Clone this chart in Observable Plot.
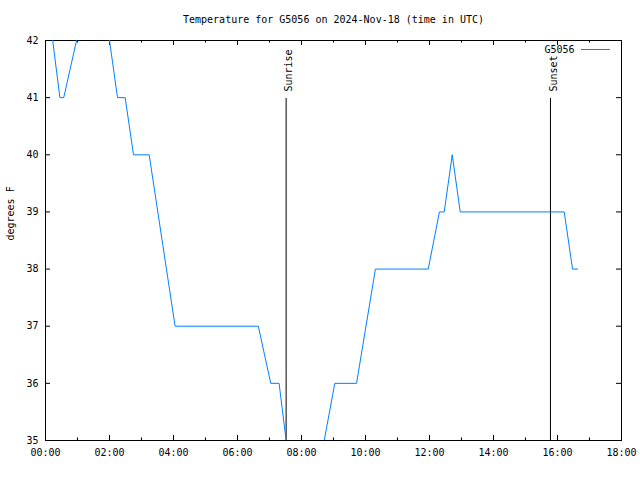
<!DOCTYPE html>
<html><head><meta charset="utf-8">
<script src="https://cdn.jsdelivr.net/npm/d3@7"></script>
<script src="https://cdn.jsdelivr.net/npm/@observablehq/plot@0.6"></script>
<style>body{margin:0;background:#fff}</style>
</head><body><div id="chart"></div>
<script>
const title = "Temperature for G5056 on 2024-Nov-18 (time in UTC)";
const seriesName = "G5056";
const yLabel = "degrees F";
const hours = [0, 0.45, 0.57, 0.97, 1.4, 1.75, 2.25, 2.49, 2.75, 3.24, 4.05, 6.65, 7.04, 7.3, 7.52, 7.8, 8.45, 8.71, 9.04, 9.72, 10.31, 11.96, 12.31, 12.46, 12.71, 12.96, 16.21, 16.47, 16.63];
const temps = [43, 41, 41, 42, 43, 43, 41, 41, 40, 40, 37, 37, 36, 36, 35, 34, 34, 35, 36, 36, 38, 38, 39, 39, 40, 39, 39, 38, 38];
const events = ["Sunrise", "Sunset"];
const eventHours = [7.52, 15.78];
const xMajor = [0, 2, 4, 6, 8, 10, 12, 14, 16, 18];
const xMinor = [1, 3, 5, 7, 9, 11, 13, 15, 17];
const xTickLabels = ["00:00", "02:00", "04:00", "06:00", "08:00", "10:00", "12:00", "14:00", "16:00", "18:00"];
const yTicks = [35, 36, 37, 38, 39, 40, 41, 42];

const data = hours.map((h, i) => ({h, t: temps[i]}));
const ev = events.map((name, i) => ({name, h: eventHours[i]}));
const blue = "#0080ff";

const W = 640, H = 480, mL = 45, mR = 19, mT = 40, mB = 40;
const fw = W - mL - mR, fh = H - mT - mB;
const major = 5, minor = 2.5;

const chart = Plot.plot({
  width: W, height: H,
  marginLeft: mL, marginRight: mR, marginTop: mT, marginBottom: mB,
  style: {fontFamily: "DejaVu Sans Mono", fontSize: "10px", background: "white", color: "black", overflow: "visible"},
  x: {domain: [0, 18]},
  y: {domain: [35, 42]},
  marks: [
    Plot.axisX({anchor: "bottom", ticks: xMajor, tickSize: 0, tickPadding: 8, tickFormat: d => xTickLabels[xMajor.indexOf(d)], label: null}),
    Plot.axisY({anchor: "left", ticks: yTicks, tickSize: 0, tickPadding: 7, tickFormat: d => String(d), label: null}),
    Plot.ruleX(xMajor, {x: d => d, insetTop: fh - major, stroke: "black"}),
    Plot.ruleX(xMajor, {x: d => d, insetBottom: fh - major, stroke: "black"}),
    Plot.ruleX(xMinor, {x: d => d, insetTop: fh - minor, stroke: "black"}),
    Plot.ruleX(xMinor, {x: d => d, insetBottom: fh - minor, stroke: "black"}),
    Plot.ruleY(yTicks, {y: d => d, insetRight: fw - major, stroke: "black"}),
    Plot.ruleY(yTicks, {y: d => d, insetLeft: fw - major, stroke: "black"}),
    Plot.frame({stroke: "black"}),
    Plot.ruleX(ev, {x: "h", insetTop: 58, stroke: "black"}),
    Plot.text(ev, {x: "h", text: "name", frameAnchor: "top", lineAnchor: "middle", rotate: -90, textAnchor: "start", dy: 51, dx: 3, fill: "black"}),
    Plot.line(data, {x: "h", y: "t", stroke: blue, strokeWidth: 1, clip: true}),
    Plot.text([yLabel], {frameAnchor: "left", lineAnchor: "middle", rotate: -90, dx: -35, text: d => d, fill: "black"}),
    Plot.text([title], {frameAnchor: "top", lineAnchor: "middle", dy: -21, text: d => d, fill: "black"}),
    Plot.text([seriesName], {frameAnchor: "top-right", lineAnchor: "middle", dx: -47, dy: 9, textAnchor: "end", text: d => d, fill: "black"}),
    Plot.tickY([42], {y: d => d, insetLeft: 536, insetRight: 11, dy: 9, stroke: blue})
  ]
});
document.getElementById("chart").append(chart);
</script>
</body></html>
